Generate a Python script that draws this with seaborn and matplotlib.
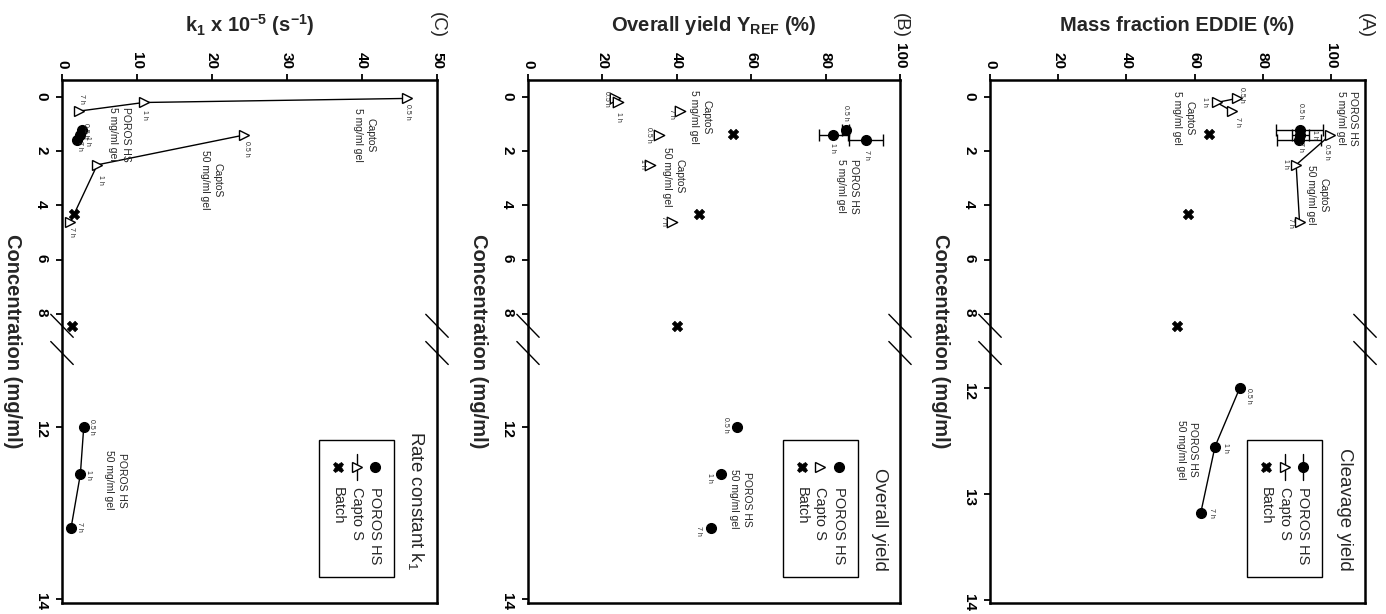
import numpy as np
import pandas as pd
import matplotlib
matplotlib.use('Agg')
import matplotlib.pyplot as plt
from matplotlib.patches import Rectangle
import seaborn as sns

# concentrations (mg/ml) of each series, shared by the three panels
capto5_conc = [0.05, 0.2, 0.52]
poros5_conc = [1.2, 1.4, 1.58]
capto50_conc = [1.4, 2.5, 4.62]
batch_conc = [1.35, 4.3, 8.45]
poros50_conc = [12.0, 12.55, 13.18]
time_labels = ['0.5 h', '1 h', '7 h']

# (A) cleavage yield - mass fraction EDDIE (%)
a_capto5 = [72.4, 66.5, 71.0]
a_poros5 = [90.8, 91.0, 90.6]
a_poros5_err = [7.0, 2.5, 6.5]
a_capto50 = [99.8, 89.8, 90.8]
a_batch = [64.1, 58.1, 54.8]
a_poros50 = [73.2, 66.0, 61.8]

# (B) overall yield Y_REF (%)
b_capto5 = [23.5, 24.3, 40.8]
b_poros5 = [85.4, 82.1, 90.8]
b_poros5_err = [1.0, 3.9, 4.5]
b_capto50 = [35.1, 32.8, 38.7]
b_batch = [55.0, 46.0, 40.0]
b_poros50 = [56.2, 51.9, 49.2]

# (C) rate constant k1 x 10^-5 (s^-1)
c_capto5 = [46.0, 10.9, 2.2]
c_poros5 = [2.7, 2.4, 2.0]
c_capto50 = [24.3, 4.7, 1.1]
c_batch = [np.nan, 1.65, 1.35]
c_poros50 = [2.9, 2.45, 1.2]

legend_names = ['POROS HS', 'Capto S', 'Batch']

sns.set_theme(style='white')
plt.rcParams['font.family'] = ['Liberation Sans', 'DejaVu Sans']
plt.rcParams['mathtext.fontset'] = 'custom'
plt.rcParams['mathtext.rm'] = 'Liberation Sans'
plt.rcParams['mathtext.it'] = 'Liberation Sans:italic'
plt.rcParams['mathtext.bf'] = 'Liberation Sans:bold'

MARKERS = {
    'poros': dict(marker='o', ms=7, fc='black', mew=1.0),
    'capto': dict(marker='>', ms=7.5, fc='white', mew=1.0),
    'batch': dict(marker='X', ms=7.5, fc='black', mew=0.5),
}
PX = 0.72  # points per pixel at dpi 100


def break_scale(b0, k):
    """Broken concentration axis: 0..9 linear, b0..14 stretched by k."""
    def fwd(c):
        c = np.asarray(c, float)
        return np.where(c <= 9, c, np.where(c >= b0, 9 + (c - b0) * k, 9.0))

    def inv(f):
        f = np.asarray(f, float)
        return np.where(f <= 9, f, b0 + (f - 9) / k)
    return fwd, inv


def draw_series(ax, conc, vals, kind, connect):
    df = pd.DataFrame({'conc': conc, 'val': vals}).dropna()
    st = MARKERS[kind]
    if connect:
        sns.lineplot(data=df, x='val', y='conc', sort=False, estimator=None,
                     color='black', linewidth=1.0, marker=st['marker'],
                     markersize=st['ms'], markerfacecolor=st['fc'],
                     markeredgecolor='black', markeredgewidth=st['mew'],
                     ax=ax, zorder=3)
    else:
        sns.scatterplot(data=df, x='val', y='conc', marker=st['marker'],
                        s=st['ms'] ** 2, color=st['fc'], edgecolor='black',
                        linewidth=st['mew'], ax=ax, zorder=3)


def time_tags(ax, conc, vals, offsets):
    for lab, c, v, (dx, dy) in zip(time_labels, conc, vals, offsets):
        if np.isnan(v):
            continue
        ax.annotate(lab, xy=(v, c), xytext=(dx * PX, -dy * PX),
                    textcoords='offset points', rotation=-90,
                    rotation_mode='anchor', ha='left', va='center',
                    fontsize=5)


def legend_box(ax, title, lines):
    ax.add_patch(Rectangle((0.686, 0.05), 0.2, 0.262, transform=ax.transAxes,
                           fill=False, lw=1.0, ec='black'))
    ax.text(0.945, 0.062, title, transform=ax.transAxes, rotation=-90,
            rotation_mode='anchor', ha='right', va='center', fontsize=13.5)
    for xa, name, kind, line in zip([0.835, 0.786, 0.736], legend_names,
                                    ['poros', 'capto', 'batch'], lines):
        st = MARKERS[kind]
        if line:
            ax.plot([xa, xa], [0.285, 0.235], transform=ax.transAxes,
                    color='black', lw=1.0)
        ax.plot([xa], [0.26], transform=ax.transAxes, marker=st['marker'],
                ms=st['ms'], mfc=st['fc'], mec='black', mew=st['mew'],
                ls='none')
        ax.text(xa, 0.222, name, transform=ax.transAxes, rotation=-90,
                rotation_mode='anchor', ha='left', va='center', fontsize=10.5)


def setup_axes(ax, xmax, xticks, yticks, b0, k, ybottom, xlabel, letter):
    ax.set_yscale('function', functions=break_scale(b0, k))
    ax.set_xlim(0, xmax)
    ax.set_ylim(ybottom, -0.63)
    ax.set_xticks(xticks)
    ax.set_yticks(yticks)
    ax.set_yticklabels([str(t) for t in yticks])
    ax.minorticks_off()
    ax.xaxis.tick_top()
    ax.tick_params(axis='x', top=True, bottom=False, direction='out',
                   length=4, width=1.3, pad=4, labelsize=11,
                   labelrotation=-90, colors='black')
    ax.tick_params(axis='y', left=True, right=False, direction='out',
                   length=4, width=1.3, pad=6, labelsize=11,
                   labelrotation=-90, colors='black')
    for lab in ax.get_xticklabels() + ax.get_yticklabels():
        lab.set_fontweight('bold')
    for sp in ax.spines.values():
        sp.set_color('black')
        sp.set_linewidth(1.8)
    ax.text(0.5, 1.105, xlabel, transform=ax.transAxes, ha='center',
            va='center', fontsize=14.5, fontweight='bold')
    ax.text(-0.133, 0.5, 'Concentration (mg/ml)', transform=ax.transAxes,
            rotation=-90, rotation_mode='anchor', ha='center', va='center',
            fontsize=14.5, fontweight='bold')
    ax.text(1.0, 1.105, letter, transform=ax.transAxes, rotation=-90,
            rotation_mode='anchor', ha='center', va='center', fontsize=13.5)
    # axis break marks on both spines
    for xs in (0.0, 1.0):
        for yb in (0.53, 0.478):
            ax.plot([xs - 0.03, xs + 0.03], [yb + 0.022, yb - 0.022],
                    transform=ax.transAxes, color='black', lw=1.0,
                    clip_on=False)


def block(ax, text, v, c):
    ax.text(v, c, text, rotation=-90, rotation_mode='anchor', ha='center',
            va='center', multialignment='center', fontsize=7.5,
            linespacing=1.3)


fig = plt.figure(figsize=(13.86, 6.14), dpi=100)
fig.patch.set_facecolor('white')
bottom, height = 1 - 603 / 614, 523 / 614
ax_c = fig.add_axes([62 / 1386, bottom, 375 / 1386, height])
ax_b = fig.add_axes([528 / 1386, bottom, 372 / 1386, height])
ax_a = fig.add_axes([990 / 1386, bottom, 375 / 1386, height])
for ax in (ax_a, ax_b, ax_c):
    ax.set_facecolor('white')

# ---- panel A ----
ax = ax_a
setup_axes(ax, 110, [0, 20, 40, 60, 80, 100], [0, 2, 4, 6, 8, 12, 13, 14],
           11.55, 3.9, 14.03, 'Mass fraction EDDIE (%)', '(A)')
ax.errorbar(a_poros5, poros5_conc, xerr=a_poros5_err, fmt='none',
            ecolor='black', elinewidth=1.0, capsize=4, capthick=1.0, zorder=2)
draw_series(ax, capto5_conc, a_capto5, 'capto', True)
draw_series(ax, poros5_conc, a_poros5, 'poros', True)
draw_series(ax, capto50_conc, a_capto50, 'capto', True)
draw_series(ax, batch_conc, a_batch, 'batch', False)
draw_series(ax, poros50_conc, a_poros50, 'poros', True)
time_tags(ax, capto5_conc, a_capto5, [(5, -11), (-12, -5), (5, 6)])
time_tags(ax, poros5_conc, a_poros5, [(1, -27), (14, -5), (2, 2)])
time_tags(ax, capto50_conc, a_capto50, [(-4, 9), (-11, -6), (-9, -4)])
time_tags(ax, poros50_conc, a_poros50, [(9, 0), (10, -4), (11, -5)])
block(ax, 'POROS HS\n5 mg/ml gel', 104.8, 0.78)
block(ax, 'CaptoS\n5 mg/ml gel', 56.6, 0.78)
block(ax, 'CaptoS\n50 mg/ml gel', 95.9, 3.62)
block(ax, 'POROS HS\n50 mg/ml gel', 57.8, 12.58)
legend_box(ax, 'Cleavage yield', [True, True, False])

# ---- panel B ----
ax = ax_b
setup_axes(ax, 100, [0, 20, 40, 60, 80, 100], [0, 2, 4, 6, 8, 12, 14],
           11.0, 3.17, 14.05, r'Overall yield Y$_\mathbf{REF}$ (%)', '(B)')
ax.errorbar(b_poros5, poros5_conc, xerr=b_poros5_err, fmt='none',
            ecolor='black', elinewidth=1.0, capsize=4, capthick=1.0, zorder=2)
draw_series(ax, capto5_conc, b_capto5, 'capto', False)
draw_series(ax, poros5_conc, b_poros5, 'poros', False)
draw_series(ax, capto50_conc, b_capto50, 'capto', False)
draw_series(ax, batch_conc, b_batch, 'batch', False)
draw_series(ax, poros50_conc, b_poros50, 'poros', False)
time_tags(ax, capto5_conc, b_capto5, [(-9, -7), (0, 10), (-8, -2)])
time_tags(ax, poros5_conc, b_poros5, [(0, -25), (-1, 8), (1, 10)])
time_tags(ax, capto50_conc, b_capto50, [(-10, -8), (-8, -6), (-8, -6)])
time_tags(ax, poros50_conc, b_poros50, [(-12, -10), (-12, -1), (-13, -2)])
block(ax, 'POROS HS\n5 mg/ml gel', 85.9, 3.28)
block(ax, 'CaptoS\n5 mg/ml gel', 46.2, 0.74)
block(ax, 'CaptoS\n50 mg/ml gel', 39.1, 2.93)
block(ax, 'POROS HS\n50 mg/ml gel', 57.1, 12.84)
legend_box(ax, 'Overall yield', [False, False, False])

# ---- panel C ----
ax = ax_c
setup_axes(ax, 50, [0, 10, 20, 30, 40, 50], [0, 2, 4, 6, 8, 12, 14],
           11.0, 3.17, 14.05,
           r'k$_\mathbf{1}$ x 10$^\mathbf{-5}$ (s$^\mathbf{-1}$)', '(C)')
draw_series(ax, capto5_conc, c_capto5, 'capto', True)
draw_series(ax, poros5_conc, c_poros5, 'poros', True)
draw_series(ax, capto50_conc, c_capto50, 'capto', True)
draw_series(ax, batch_conc, c_batch, 'batch', False)
draw_series(ax, poros50_conc, c_poros50, 'poros', True)
time_tags(ax, capto5_conc, c_capto5, [(0, 6), (1, 8), (3, -17)])
time_tags(ax, poros5_conc, c_poros5, [(3, -7), (8, 1), (2, 1)])
time_tags(ax, capto50_conc, c_capto50, [(2, 6), (3, 10), (1, 5)])
time_tags(ax, poros50_conc, c_poros50, [(8, -8), (8, -4), (9, -6)])
block(ax, 'CaptoS\n5 mg/ml gel', 40.3, 1.40)
block(ax, 'POROS HS\n5 mg/ml gel', 7.67, 1.37)
block(ax, 'CaptoS\n50 mg/ml gel', 19.9, 3.06)
block(ax, 'POROS HS\n50 mg/ml gel', 7.13, 12.62)
legend_box(ax, r'Rate constant k$_1$', [False, True, False])

# seaborn writes its own axis labels; the real ones are placed as texts above
for ax in (ax_a, ax_b, ax_c):
    ax.set_xlabel('')
    ax.set_ylabel('')

fig.savefig('out.png', dpi=100, facecolor='white')
